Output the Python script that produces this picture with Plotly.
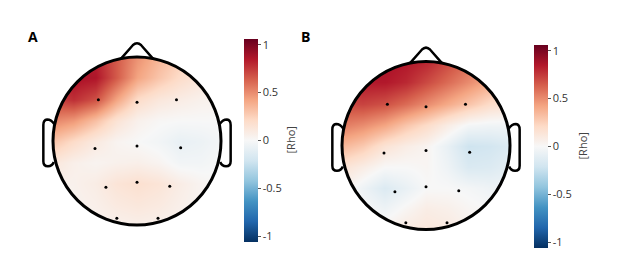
import numpy as np
import plotly.graph_objects as go

W, H = 617, 261

# electrode labels and normalized head positions (head radius = 1)
electrodes = ["F3", "Fz", "F4", "C3", "Cz", "C4", "P3", "Pz", "P4", "O1", "O2"]
elec_x = [-0.46, 0.0, 0.47, -0.50, 0.0, 0.52, -0.37, 0.0, 0.39, -0.24, 0.25]
elec_y = [0.49, 0.46, 0.49, -0.09, -0.06, -0.08, -0.55, -0.49, -0.54, -0.92, -0.92]

# coarse grid of Rho values (rows top->bottom)
grid_x = [-1.0, -0.75, -0.5, -0.25, 0.0, 0.25, 0.5, 0.75, 1.0]
grid_y = [1.0, 0.75, 0.5, 0.25, 0.0, -0.25, -0.5, -0.75, -1.0]

rho_A = [
    [0.80, 0.85, 0.82, 0.65, 0.48, 0.36, 0.26, 0.18, 0.12],
    [0.82, 0.88, 0.86, 0.65, 0.42, 0.30, 0.20, 0.13, 0.08],
    [0.72, 0.78, 0.68, 0.42, 0.20, 0.12, 0.08, 0.05, 0.04],
    [0.52, 0.46, 0.32, 0.15, 0.05, 0.01, 0.00, 0.00, 0.00],
    [0.30, 0.20, 0.10, 0.03, 0.00, -0.03, -0.08, -0.06, -0.02],
    [0.12, 0.06, 0.03, 0.05, 0.06, 0.03, -0.03, -0.03, 0.00],
    [0.05, 0.05, 0.08, 0.14, 0.17, 0.14, 0.08, 0.03, 0.00],
    [0.03, 0.04, 0.06, 0.10, 0.12, 0.10, 0.06, 0.03, 0.02],
    [0.02, 0.03, 0.04, 0.05, 0.06, 0.05, 0.04, 0.03, 0.02],
]

rho_B = [
    [0.85, 0.88, 0.88, 0.85, 0.80, 0.70, 0.60, 0.50, 0.45],
    [0.80, 0.85, 0.85, 0.80, 0.70, 0.60, 0.50, 0.40, 0.35],
    [0.70, 0.72, 0.68, 0.60, 0.50, 0.40, 0.30, 0.20, 0.15],
    [0.55, 0.50, 0.42, 0.30, 0.20, 0.08, -0.02, -0.04, -0.04],
    [0.35, 0.28, 0.15, 0.08, 0.03, -0.08, -0.22, -0.20, -0.15],
    [0.15, 0.08, 0.00, 0.00, 0.02, -0.05, -0.16, -0.15, -0.10],
    [0.05, -0.05, -0.15, -0.08, 0.00, 0.00, -0.02, -0.05, -0.05],
    [0.05, 0.00, -0.05, 0.02, 0.08, 0.06, 0.02, 0.00, -0.02],
    [0.05, 0.05, 0.05, 0.10, 0.12, 0.10, 0.05, 0.02, 0.00],
]

cbar_ticks = [-1, -0.5, 0, 0.5, 1]
cbar_ticktext = ["-1", "-0.5", "0", "0.5", "1"]
panel_labels = ["A", "B"]
cbar_title = "[Rho]"

colorscale = [
    [0.0, "rgb(5,48,97)"], [0.1, "rgb(33,102,172)"], [0.2, "rgb(67,147,195)"],
    [0.3, "rgb(146,197,222)"], [0.4, "rgb(209,229,240)"], [0.5, "rgb(247,247,247)"],
    [0.6, "rgb(253,219,199)"], [0.7, "rgb(244,165,130)"], [0.8, "rgb(214,96,77)"],
    [0.9, "rgb(178,24,43)"], [1.0, "rgb(103,0,31)"],
]
CMAX = 1.06

# layout geometry (pixels)
panels = [
    dict(cx=137, cy=141, cb_x=244, cb_top=39, cb_bot=242, title_x=290, lab=(32.5, 36)),
    dict(cx=426, cy=145.5, cb_x=534, cb_top=45, cb_bot=248, title_x=582, lab=(305, 36.5)),
]
S = 84.0
R = 1.2

fig = go.Figure()
shapes = []
annotations = []

# circle polygon for mask
th = np.linspace(0, 2 * np.pi, 241)
circ = " ".join(("M" if i == 0 else "L") + f" {np.cos(t):.4f} {np.sin(t):.4f}" for i, t in enumerate(th)) + " Z"
mask_path = f"M {-R-0.1} {-R-0.1} L {R+0.1} {-R-0.1} L {R+0.1} {R+0.1} L {-R-0.1} {R+0.1} Z " + circ

nose_path = "M -0.19 0.98 L -0.05 1.14 Q 0 1.19 0.05 1.14 L 0.19 0.98"
ear_l = "M -0.985 0.20 Q -1.02 0.255 -1.07 0.255 Q -1.115 0.25 -1.115 0.19 L -1.115 -0.24 Q -1.115 -0.30 -1.06 -0.30 Q -1.01 -0.30 -0.99 -0.25"
ear_r = "M 0.985 0.20 Q 1.02 0.255 1.07 0.255 Q 1.115 0.25 1.115 0.19 L 1.115 -0.24 Q 1.115 -0.30 1.06 -0.30 Q 1.01 -0.30 0.99 -0.25"

for i, (p, z) in enumerate(zip(panels, [rho_A, rho_B])):
    n = "" if i == 0 else str(i + 1)
    xa, ya = "x" + n, "y" + n
    fig.add_trace(go.Heatmap(
        x=grid_x, y=grid_y, z=z, zsmooth="best", colorscale=colorscale,
        zmin=-CMAX, zmax=CMAX, xaxis=xa, yaxis=ya,
        colorbar=dict(
            x=p["cb_x"] / W, xanchor="left", xpad=0,
            y=(H - (p["cb_top"] + p["cb_bot"]) / 2) / H, yanchor="middle", ypad=0,
            len=(p["cb_bot"] - p["cb_top"]) / H, lenmode="fraction",
            thickness=14, thicknessmode="pixels", outlinewidth=0,
            tickvals=cbar_ticks, ticktext=cbar_ticktext, ticks="outside",
            ticklen=3, tickcolor="#555", tickfont=dict(size=11, color="#333", family="Open Sans"),
        ),
        hoverinfo="skip",
    ))
    fig.add_trace(go.Scatter(
        x=elec_x, y=elec_y, mode="markers", text=electrodes,
        marker=dict(size=3, color="black"), xaxis=xa, yaxis=ya, showlegend=False,
    ))
    x0 = (p["cx"] - R * S) / W
    x1 = (p["cx"] + R * S) / W
    y0 = (H - (p["cy"] + R * S)) / H
    y1 = (H - (p["cy"] - R * S)) / H
    axk = dict(range=[-R, R], visible=False, fixedrange=True)
    fig.update_layout(**{
        "xaxis" + n: dict(domain=[x0, x1], anchor=ya, **axk),
        "yaxis" + n: dict(domain=[y0, y1], anchor=xa, **axk),
    })
    shapes.append(dict(type="path", path=mask_path, xref=xa, yref=ya, fillcolor="white",
                       fillrule="evenodd", line=dict(width=0)))
    shapes.append(dict(type="path", path=nose_path, xref=xa, yref=ya,
                       line=dict(color="black", width=2.5)))
    shapes.append(dict(type="path", path=ear_l, xref=xa, yref=ya,
                       line=dict(color="black", width=2.5)))
    shapes.append(dict(type="path", path=ear_r, xref=xa, yref=ya,
                       line=dict(color="black", width=2.5)))
    shapes.append(dict(type="circle", x0=-1, x1=1, y0=-1, y1=1, xref=xa, yref=ya,
                       line=dict(color="black", width=3)))
    annotations.append(dict(text=cbar_title, textangle=-90, x=p["title_x"] / W,
                            y=(H - (p["cb_top"] + p["cb_bot"]) / 2) / H,
                            xref="paper", yref="paper", showarrow=False,
                            xanchor="center", yanchor="middle",
                            font=dict(size=11, color="#444", family="Open Sans")))
    annotations.append(dict(text="<b>" + panel_labels[i] + "</b>", x=p["lab"][0] / W,
                            y=(H - p["lab"][1]) / H, xref="paper", yref="paper",
                            showarrow=False, xanchor="center", yanchor="middle",
                            font=dict(size=14, color="black", family="Open Sans")))

fig.update_layout(
    width=W, height=H, margin=dict(l=0, r=0, t=0, b=0),
    paper_bgcolor="white", plot_bgcolor="white",
    shapes=shapes, annotations=annotations, showlegend=False,
)
fig.write_html("out.html", config={"displayModeBar": False},
               post_script="document.body.style.margin='0px';")
